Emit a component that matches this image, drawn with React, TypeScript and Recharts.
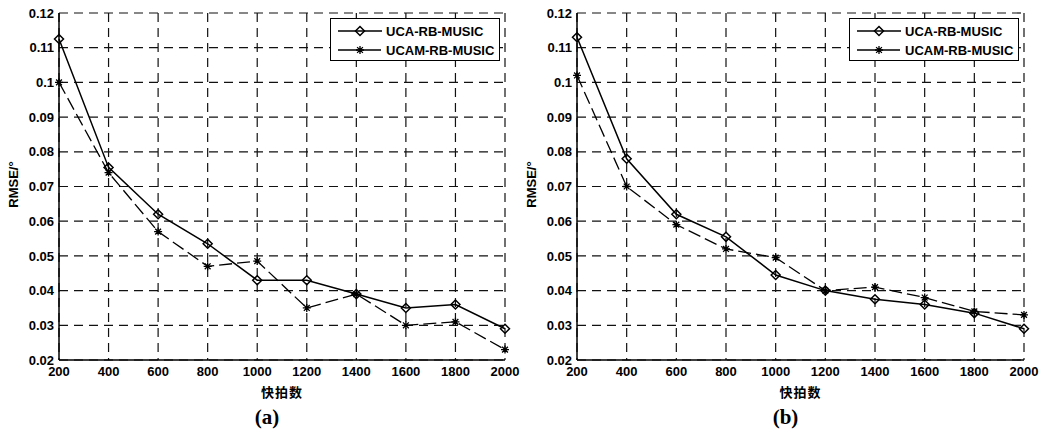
import { LineChart, Line, XAxis, YAxis, CartesianGrid } from 'recharts'

// 快拍数 (snapshots) on the x axis
const snapshots = [200, 400, 600, 800, 1000, 1200, 1400, 1600, 1800, 2000]
const yTicks = [0.02, 0.03, 0.04, 0.05, 0.06, 0.07, 0.08, 0.09, 0.1, 0.11, 0.12]

// panel (a)
const ucaA = [0.1125, 0.0755, 0.062, 0.0535, 0.043, 0.043, 0.039, 0.035, 0.036, 0.029]
const ucamA = [0.1, 0.074, 0.057, 0.047, 0.0485, 0.035, 0.039, 0.030, 0.031, 0.023]

// panel (b)
const ucaB = [0.113, 0.078, 0.062, 0.0555, 0.0445, 0.04, 0.0375, 0.036, 0.0335, 0.029]
const ucamB = [0.102, 0.07, 0.059, 0.052, 0.0495, 0.04, 0.041, 0.038, 0.034, 0.033]

const seriesNames = ['UCA-RB-MUSIC', 'UCAM-RB-MUSIC']

const tickFont = { fill: '#000', fontSize: 13, fontWeight: 700, fontFamily: 'Liberation Sans, Arial, sans-serif' }
const DASH = '13 5'

function Diamond(props: any) {
  const { cx, cy, key } = props
  if (cx == null || cy == null) return <g key={key} />
  const r = 4.5
  return (
    <path
      key={key}
      d={`M${cx},${cy - r} L${cx + r},${cy} L${cx},${cy + r} L${cx - r},${cy} Z`}
      fill="none"
      stroke="#000"
      strokeWidth={1.5}
    />
  )
}

function Star(props: any) {
  const { cx, cy, key } = props
  if (cx == null || cy == null) return <g key={key} />
  const r = 4
  const d = 2.9
  return (
    <path
      key={key}
      d={`M${cx - r},${cy} L${cx + r},${cy} M${cx},${cy - r} L${cx},${cy + r} M${cx - d},${cy - d} L${cx + d},${cy + d} M${cx - d},${cy + d} L${cx + d},${cy - d}`}
      stroke="#000"
      strokeWidth={1.3}
    />
  )
}

function Legend({ left }: { left: number }) {
  return (
    <div
      style={{
        position: 'absolute', left, top: 18, width: 170, height: 43,
        border: '1px solid #000', background: '#fff', boxSizing: 'border-box',
      }}
    >
      <svg width={170} height={43} style={{ position: 'absolute', left: 0, top: 0 }}>
        <line x1={7} y1={12} x2={51} y2={12} stroke="#000" strokeWidth={1.5} />
        <Diamond cx={29} cy={12} />
        <line x1={7} y1={31} x2={51} y2={31} stroke="#000" strokeWidth={1.3} strokeDasharray="20 3" />
        <Star cx={29} cy={31} />
        <text x={55} y={16.5} style={tickFont}>{seriesNames[0]}</text>
        <text x={55} y={35.5} style={tickFont}>{seriesNames[1]}</text>
      </svg>
    </div>
  )
}

function Panel({
  uca, ucam, left, width, yAxisWidth, rightMargin, tag,
}: {
  uca: number[]; ucam: number[]; left: number; width: number
  yAxisWidth: number; rightMargin: number; tag: string
}) {
  const data = snapshots.map((n, i) => ({ n, uca: uca[i], ucam: ucam[i] }))
  const plotLeft = left + yAxisWidth
  const plotRight = left + width - rightMargin
  const mid = (plotLeft + plotRight) / 2

  return (
    <>
      <div style={{ position: 'absolute', left, top: 0 }}>
        <LineChart width={width} height={439} data={data} margin={{ top: 13, right: rightMargin, bottom: 39, left: 0 }}>
          <CartesianGrid stroke="#111" strokeWidth={1.2} strokeDasharray="9 6" />
          <XAxis
            dataKey="n"
            type="number"
            domain={[200, 2000]}
            ticks={snapshots}
            height={40}
            tick={tickFont}
            tickSize={0}
            tickMargin={7}
            axisLine={{ stroke: '#000', strokeWidth: 1.5 }}
            interval={0}
          />
          <YAxis
            type="number"
            domain={[0.02, 0.12]}
            ticks={yTicks}
            width={yAxisWidth}
            tick={tickFont}
            tickSize={0}
            tickMargin={5}
            axisLine={{ stroke: '#000', strokeWidth: 1.5 }}
            interval={0}
            tickFormatter={(v: number) => String(Number(v.toFixed(2)))}
          />
          <Line
            dataKey="ucam"
            stroke="#000"
            strokeWidth={1.3}
            strokeDasharray={DASH}
            dot={Star}
            isAnimationActive={false}
          />
          <Line
            dataKey="uca"
            stroke="#000"
            strokeWidth={1.5}
            dot={Diamond}
            isAnimationActive={false}
          />
        </LineChart>
      </div>
      <Legend left={plotRight - 175} />
      <div
        style={{
          position: 'absolute', left: plotLeft - 46, top: 186, width: 0, height: 0,
        }}
      >
        <div
          style={{
            position: 'absolute', left: -40, top: -9, width: 80, textAlign: 'center',
            transform: 'rotate(-90deg)', fontSize: 13, fontWeight: 700,
            fontFamily: 'Liberation Sans, Arial, sans-serif',
          }}
        >
          RMSE/°
        </div>
      </div>
      <div
        style={{
          position: 'absolute', left: mid - 60, top: 382, width: 120, textAlign: 'center',
          fontSize: 13, fontWeight: 700, letterSpacing: 1, fontFamily: 'Noto Sans CJK SC, sans-serif',
        }}
      >
        快拍数
      </div>
      <div
        style={{
          position: 'absolute', left: mid - 15 - 60, top: 405, width: 120, textAlign: 'center',
          fontSize: 21, fontWeight: 700, fontFamily: 'Liberation Serif, Times New Roman, serif',
        }}
      >
        {tag}
      </div>
    </>
  )
}

export default function App() {
  return (
    <div style={{ position: 'absolute', left: 0, top: 0, width: 1046, height: 439, background: '#fff', overflow: 'hidden' }}>
      <Panel uca={ucaA} ucam={ucamA} left={0} width={520} yAxisWidth={59} rightMargin={15} tag="(a)" />
      <Panel uca={ucaB} ucam={ucamB} left={520} width={526} yAxisWidth={57} rightMargin={22} tag="(b)" />
    </div>
  )
}
